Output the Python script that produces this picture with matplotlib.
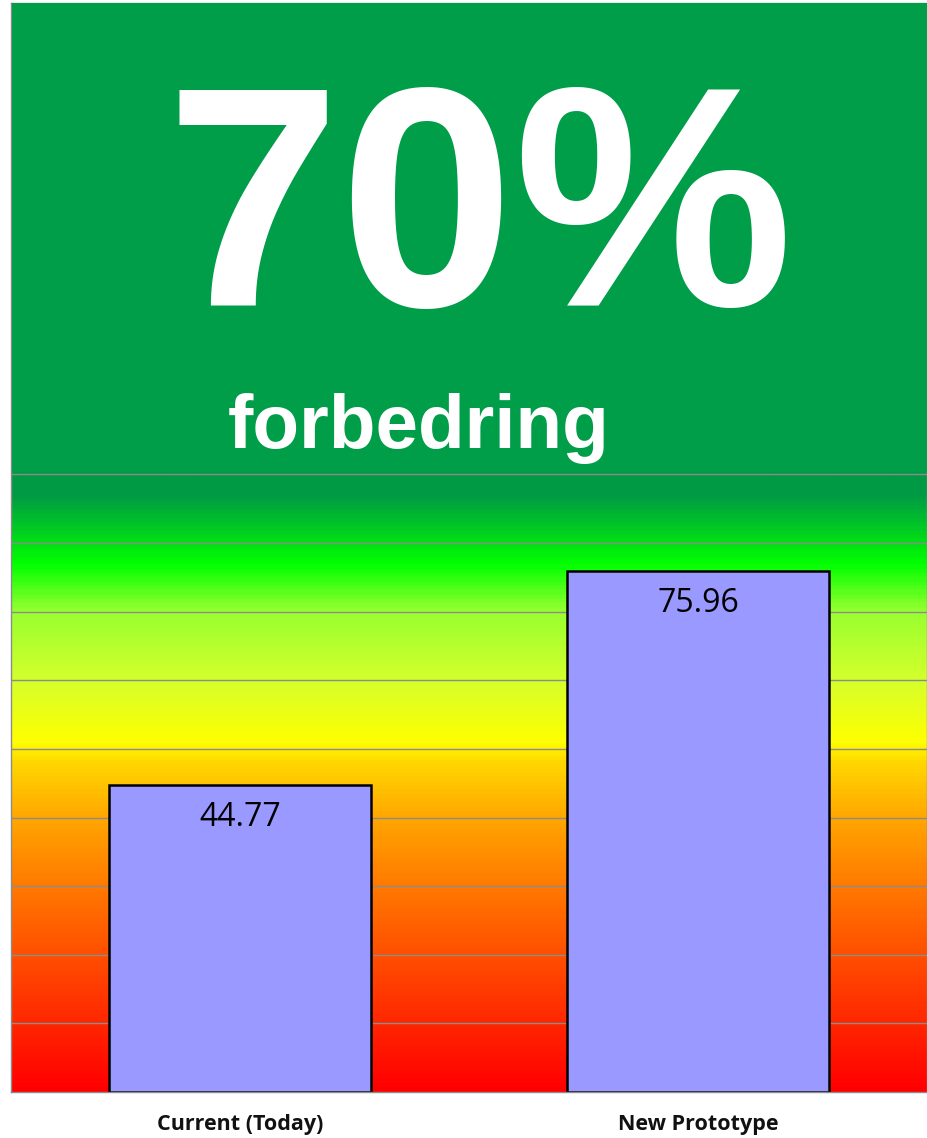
import matplotlib.pyplot as plt
import numpy as np
from matplotlib.colors import LinearSegmentedColormap
from matplotlib.patches import Rectangle

categories = ['Current (Today)', 'New Prototype']
scores = [44.77, 75.96]
headline = '70%'
subline = 'forbedring'

# background gradient stops (value, colour)
grad_vals = [0, 10, 20, 30, 40, 48, 51, 60, 70, 77, 87, 158.7]
grad_cols = ['#ff0000', '#ff2800', '#ff5000', '#ff7a00', '#ffa800', '#ffd800',
             '#ffff00', '#d4ff2c', '#98ff30', '#00ff00', '#009a44', '#009a44']
ymax = 158.7
green = '#009e49'

W, H = 928, 1138
fig = plt.figure(figsize=(W / 100, H / 100), dpi=100)
ax = fig.add_axes([11 / W, (H - 1092) / H, 916 / W, 1089 / H])

cmap = LinearSegmentedColormap.from_list(
    'bg', [(v / ymax, c) for v, c in zip(grad_vals, grad_cols)])
grad = np.linspace(0, 1, 600).reshape(-1, 1)
ax.imshow(grad, cmap=cmap, origin='lower', aspect='auto',
          extent=[-0.5, 1.5, 0, ymax], zorder=0)

for g in range(10, 100, 10):
    ax.axhline(g, color='#8c8c8c', lw=1.0, zorder=1)

x = np.arange(len(categories))
bars = ax.bar(x, scores, width=0.571, color='#9999ff', edgecolor='black',
              linewidth=1.8, zorder=2)
for b, v in zip(bars, scores):
    ax.annotate(f'{v:.2f}', (b.get_x() + b.get_width() / 2, v),
                xytext=(0, -23.5), textcoords='offset points',
                ha='center', va='center', fontsize=23,
                family=['Open Sans', 'DejaVu Sans'], color='black', zorder=3)

ax.set_xlim(-0.5, 1.5)
ax.set_ylim(0, ymax)
ax.set_yticks([])
ax.set_xticks(x)
ax.set_xticklabels(categories, fontsize=15.5, fontweight='bold',
                   family=['Open Sans', 'DejaVu Sans'], color='#111111')
ax.tick_params(axis='x', length=0, pad=16)
for s in ax.spines.values():
    s.set_color('#8c8c8c')
    s.set_linewidth(1.0)

# green headline box on top
fig.patches.append(Rectangle((12 / W, (H - 472) / H), (W - 12) / W, 469 / H,
                             transform=fig.transFigure, facecolor=green,
                             edgecolor='none', zorder=5))
fig.text(480 / W, (H - 306) / H, headline, ha='center', va='baseline',
         fontsize=226, fontweight='bold', color='white',
         family=['Liberation Sans', 'DejaVu Sans'], zorder=6)
fig.text(419 / W, (H - 448) / H, subline, ha='center', va='baseline',
         fontsize=55, fontweight='bold', color='white',
         family=['Liberation Sans', 'DejaVu Sans'], zorder=6)

fig.savefig('out.png', dpi=100)
